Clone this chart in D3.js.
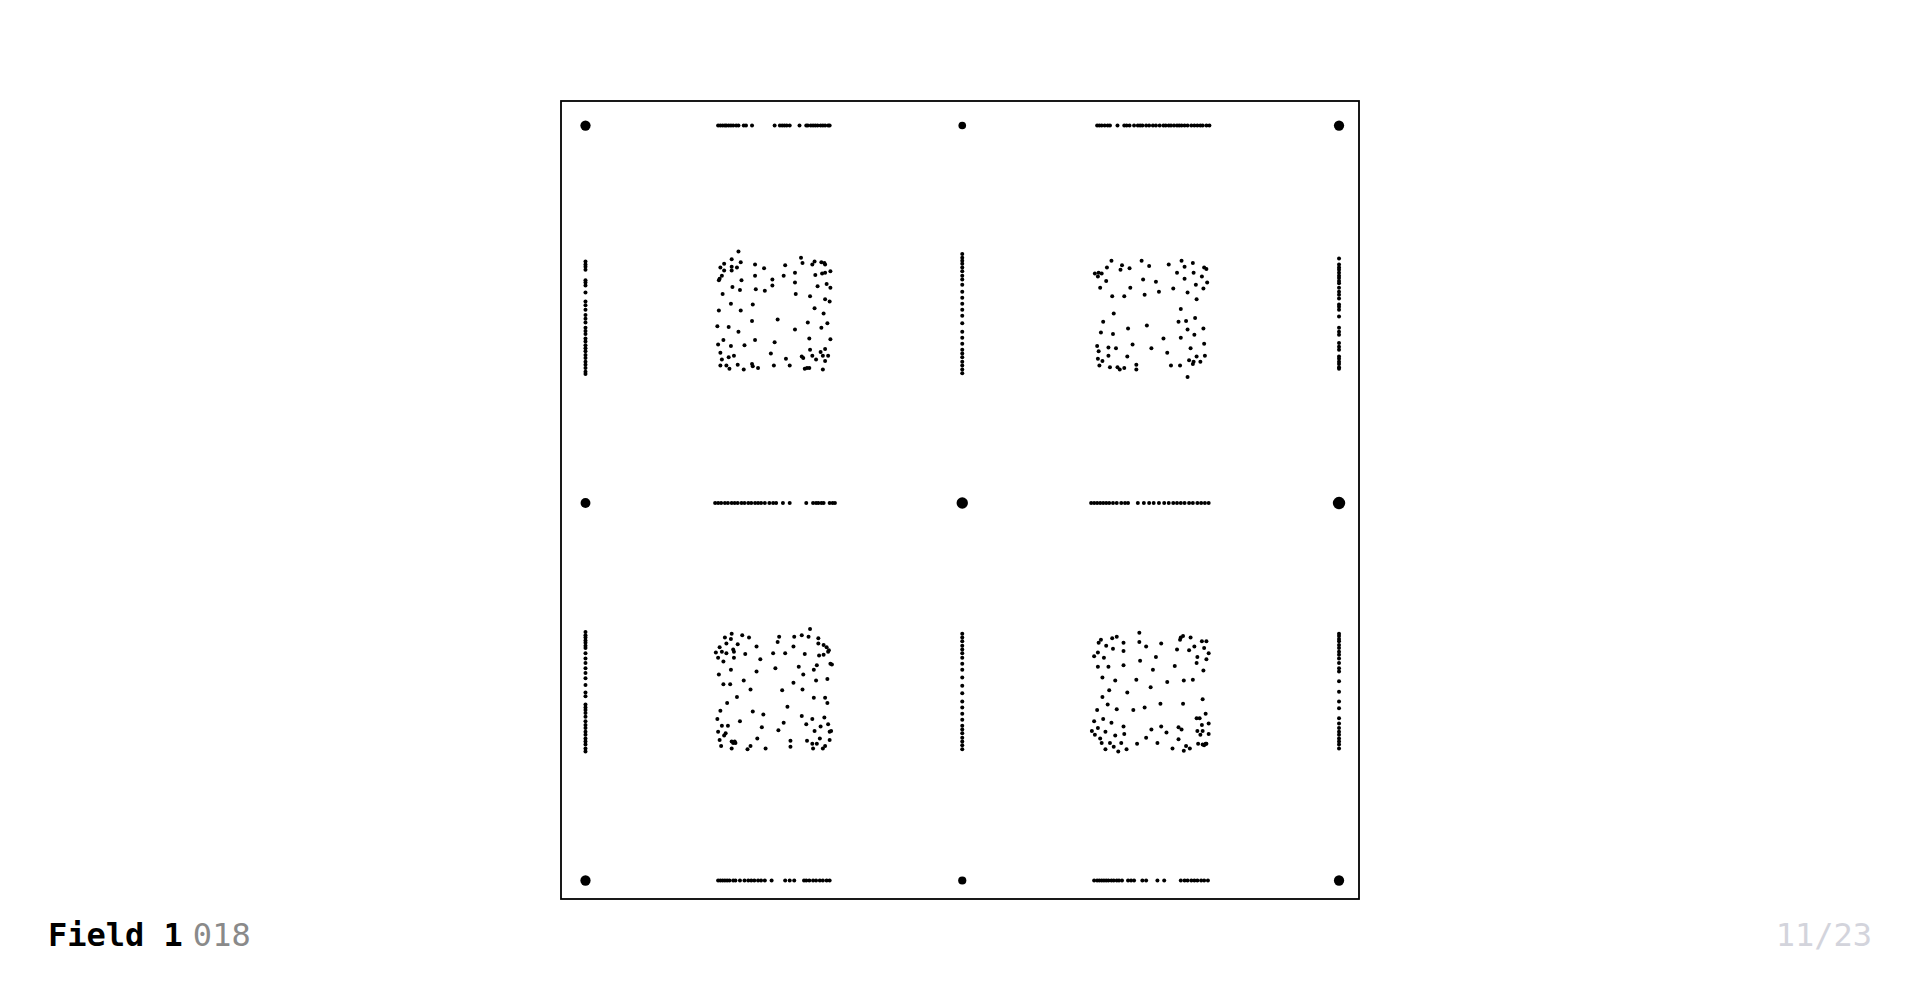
<!DOCTYPE html>
<html>
<head>
<meta charset="utf-8">
<script src="https://cdn.jsdelivr.net/npm/d3@7"></script>
<style>
  html, body { margin: 0; padding: 0; background: #ffffff; }
  svg { display: block; }
</style>
</head>
<body>
<script>
// ---------------- DATA (field units, 0..1000) ----------------
const title = "Field 1";
const fieldId = "018";
const pageLabel = "11/23";

const nodeLevels = [0, 500, 1000];
// number of coincident samples at each node: rows (y) x cols (x)
const nodeCounts = [
  [20, 9, 20],
  [18, 26, 32],
  [20, 11, 20]
];

// horizontal segments: x values, y fixed at a node level
const hTopLeft = [176,179,182,185,187,190,193,196,200,203,210,213,221,251,258,261,264,267,271,284,293,295,299,302,305,308,312,315,318,322,324];
const hTopRight = [679,682,685,689,693,696,706,715,718,722,728,733,736,739,744,748,753,757,762,767,770,774,777,781,785,788,791,795,799,804,808,812,816,819,824,828];
const hMidLeft = [172,176,180,185,189,194,198,202,207,211,216,220,225,229,233,238,244,249,253,262,271,293,302,306,309,313,316,324,328,331];
const hMidRight = [671,675,679,683,687,691,695,700,705,711,716,720,733,741,748,754,761,768,774,780,785,790,795,801,806,812,817,822,827];
const hBotLeft = [176,179,182,185,188,191,196,199,205,211,216,220,224,229,233,238,247,265,271,277,290,293,297,302,306,311,315,320,324];
const hBotRight = [675,679,682,685,688,691,694,698,701,705,708,712,720,724,728,739,744,759,768,790,795,799,804,808,812,817,821,826];

// vertical segments: y values, x fixed at a node level
const vLeftTop = [180,184,187,191,205,208,212,221,233,238,244,251,256,261,268,272,276,282,286,291,295,299,304,308,313,317,321,326,329];
const vLeftBot = [671,675,678,682,685,689,692,699,706,712,719,725,732,741,751,756,767,771,774,778,783,789,794,798,803,807,812,816,820,825,829];
const vMidTop = [170,175,179,183,188,193,199,204,211,220,228,236,244,252,262,273,281,289,297,302,307,313,318,323,328];
const vMidBot = [673,678,683,689,694,699,705,713,721,731,742,752,763,771,779,787,795,800,805,811,816,821,826];
const vRightTop = [176,184,188,191,195,199,202,206,209,215,220,224,229,237,240,244,253,268,273,277,288,293,297,306,309,313,316,320,322];
const vRightBot = [673,676,680,683,688,692,697,701,706,712,719,723,736,750,763,772,785,792,798,803,807,812,816,820,825];

// 2-D clouds: [x, y]
const cloudTopLeft = [[203,167],[194,177],[184,183],[206,181],[286,175],[288,182],[304,180],[301,184],[313,181],[317,182],[318,184],[179,188],[194,187],[201,188],[225,184],[237,189],[265,185],[184,192],[194,192],[278,195],[305,198],[314,196],[318,195],[325,193],[181,199],[178,203],[177,205],[225,199],[207,205],[248,204],[263,199],[195,214],[205,218],[226,217],[238,219],[248,212],[278,208],[308,213],[320,210],[325,215],[182,223],[279,223],[298,226],[318,230],[324,233],[193,236],[222,237],[177,245],[206,245],[304,242],[316,249],[221,259],[255,257],[295,261],[321,262],[175,266],[190,267],[203,273],[278,270],[313,268],[183,284],[225,284],[251,287],[297,282],[325,283],[176,290],[193,292],[211,291],[318,296],[179,301],[246,302],[298,297],[312,300],[301,305],[315,305],[181,310],[190,307],[197,305],[266,309],[287,306],[289,308],[306,310],[322,305],[318,312],[179,318],[187,318],[191,322],[202,317],[210,323],[221,316],[222,319],[229,321],[250,318],[271,318],[291,322],[294,321],[297,321],[315,323]];

const cloudTopRight = [[698,179],[738,179],[791,179],[692,188],[712,185],[710,191],[722,189],[748,186],[774,184],[795,187],[806,182],[676,196],[681,195],[685,196],[680,200],[785,195],[807,195],[821,188],[824,190],[691,206],[740,204],[757,207],[795,203],[818,200],[825,208],[683,215],[723,215],[780,216],[810,211],[820,216],[699,226],[715,226],[742,224],[761,220],[799,221],[811,230],[790,243],[701,249],[687,260],[745,265],[787,260],[797,259],[809,255],[684,274],[700,276],[720,269],[799,270],[820,269],[767,282],[790,281],[808,277],[679,292],[726,290],[821,289],[681,299],[694,294],[704,295],[751,295],[772,301],[803,295],[694,305],[719,306],[811,306],[822,305],[680,309],[686,312],[801,311],[807,313],[816,313],[682,318],[696,320],[706,320],[709,323],[715,321],[731,317],[731,323],[777,318],[789,318],[806,316],[799,333]];

const cloudBotLeft = [[298,667],[194,673],[185,678],[193,680],[208,675],[217,678],[257,677],[277,677],[287,675],[296,677],[309,679],[178,691],[187,686],[202,687],[255,684],[227,690],[276,690],[309,686],[316,688],[320,691],[173,698],[181,697],[187,699],[196,694],[197,697],[212,700],[249,699],[265,699],[291,700],[310,702],[316,701],[323,695],[322,697],[176,705],[183,710],[197,705],[232,707],[193,721],[227,723],[252,719],[283,717],[307,715],[303,721],[325,713],[327,714],[177,727],[289,727],[183,740],[192,740],[210,735],[276,738],[306,735],[321,733],[219,747],[261,748],[288,747],[201,757],[303,758],[318,758],[321,765],[188,765],[268,770],[179,775],[222,776],[236,780],[175,786],[205,789],[287,782],[301,786],[317,784],[181,795],[189,795],[234,797],[263,791],[293,793],[312,796],[322,793],[176,803],[186,805],[184,808],[256,801],[304,802],[324,803],[326,802],[178,814],[194,816],[198,816],[199,818],[196,818],[228,812],[272,815],[294,815],[301,819],[311,812],[324,814],[307,819],[180,822],[194,825],[215,826],[219,822],[239,825],[272,823],[302,825],[315,825],[318,822]];

const cloudBotRight = [[735,672],[684,681],[681,685],[699,679],[705,677],[714,685],[735,684],[744,690],[764,686],[790,678],[793,676],[789,681],[803,678],[818,683],[824,683],[691,689],[700,693],[714,696],[785,694],[801,695],[808,690],[821,692],[827,699],[675,703],[680,698],[688,705],[736,709],[757,704],[812,704],[824,707],[811,712],[680,717],[694,717],[714,715],[753,721],[782,716],[820,722],[686,731],[703,735],[731,734],[772,737],[794,735],[806,734],[750,744],[695,748],[719,751],[686,757],[819,760],[693,767],[742,771],[763,766],[793,766],[679,774],[705,773],[727,774],[823,779],[687,786],[698,791],[811,785],[815,785],[675,789],[714,796],[764,796],[818,794],[827,792],[680,798],[672,802],[690,803],[751,800],[787,797],[791,800],[676,807],[703,808],[715,806],[744,811],[771,804],[812,802],[819,802],[827,806],[816,807],[683,812],[787,813],[685,818],[696,818],[711,818],[732,819],[759,818],[797,822],[813,819],[819,820],[823,819],[821,821],[824,819],[690,826],[701,823],[707,829],[718,826],[779,825],[794,828],[802,825]];

// ---------------- BUILD POINT TABLE ----------------
const points = [];
nodeLevels.forEach((yv, ri) => nodeLevels.forEach((xv, ci) => points.push({x: xv, y: yv, n: nodeCounts[ri][ci]})));
[[hTopLeft, 0], [hTopRight, 0], [hMidLeft, 500], [hMidRight, 500], [hBotLeft, 1000], [hBotRight, 1000]]
  .forEach(([xs, yv]) => xs.forEach(xv => points.push({x: xv, y: yv, n: 1})));
[[vLeftTop, 0], [vLeftBot, 0], [vMidTop, 500], [vMidBot, 500], [vRightTop, 1000], [vRightBot, 1000]]
  .forEach(([ys, xv]) => ys.forEach(yv => points.push({x: xv, y: yv, n: 1})));
[cloudTopLeft, cloudTopRight, cloudBotLeft, cloudBotRight]
  .forEach(c => c.forEach(([xv, yv]) => points.push({x: xv, y: yv, n: 1})));

// ---------------- DRAW ----------------
const W = 1920, H = 1000;
const svg = d3.select("body").append("svg").attr("width", W).attr("height", H);

const x = d3.scaleLinear().domain([-32.5, 1026.5]).range([561, 1359]);
const y = d3.scaleLinear().domain([-32.5, 1024.5]).range([101, 899]);
const r = d3.scaleSqrt().domain([1, 32]).range([2.0, 6.2]);

svg.append("rect")
  .attr("x", x.range()[0]).attr("y", y.range()[0])
  .attr("width", x.range()[1] - x.range()[0])
  .attr("height", y.range()[1] - y.range()[0])
  .attr("fill", "none").attr("stroke", "#000").attr("stroke-width", 1.8);

svg.append("g").selectAll("circle").data(points).join("circle")
  .attr("cx", d => x(d.x)).attr("cy", d => y(d.y))
  .attr("r", d => r(d.n))
  .attr("fill", "#000");

const foot = svg.append("text")
  .attr("x", 48).attr("y", 946)
  .attr("font-family", "'DejaVu Sans Mono', monospace")
  .attr("font-size", 32);
foot.append("tspan").attr("font-weight", "bold").attr("fill", "#000").text(title);
foot.append("tspan").attr("dx", 10).attr("fill", "#8a8a8a").text(fieldId);

svg.append("text")
  .attr("x", 1872).attr("y", 946)
  .attr("text-anchor", "end")
  .attr("font-family", "'DejaVu Sans Mono', monospace")
  .attr("font-size", 32)
  .attr("fill", "#d3d4dc")
  .text(pageLabel);
</script>
</body>
</html>
